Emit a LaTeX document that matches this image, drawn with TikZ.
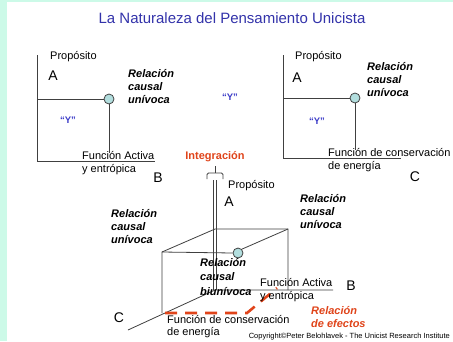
\documentclass[tikz,border=0pt]{standalone}
\usepackage{fontspec}
\setmainfont{Liberation Sans}
\definecolor{mint}{RGB}{204,250,232}
\definecolor{titleblue}{RGB}{51,51,170}
\definecolor{yblue}{RGB}{60,60,200}
\definecolor{knotfill}{RGB}{178,222,222}
\definecolor{effred}{RGB}{224,68,26}

\begin{document}
\begin{tikzpicture}[
		x=1pt, y=-1pt,
		ax/.style    ={draw=black!75,	line width=0.8pt},
		knot/.style  ={circle,	draw=black!75,	fill=knotfill,	line width=0.8pt,	inner sep=0pt,	minimum size=10pt},
		lbl/.style   ={inner sep=0pt,	anchor=west,	align=left,	font=\fontsize{11}{13}\selectfont},
		rel/.style   ={lbl,	font=\fontsize{11}{13}\selectfont\bfseries\itshape},
		letr/.style  ={inner sep=0pt,	font=\fontsize{14}{14}\selectfont},
		yq/.style    ={inner sep=0pt,	text=yblue,	font=\fontsize{9.5}{9.5}\selectfont\bfseries},
		effect/.style={draw=effred,	line width=2.6pt,	dash pattern=on 12pt off 8pt},
	]

	% background
	\fill [white] (0,0) rectangle (453,341);
	\fill [mint] (0,0) rectangle (7,341);
	\fill [mint] (0,0) rectangle (453,1.5);
	\useasboundingbox (0,0) rectangle (453,341);

	\node [inner sep=0pt, text=titleblue, font=\fontsize{15}{15}\selectfont] (title) at (232,18) {La Naturaleza del Pensamiento Unicista};

	% plane diagrams
	\foreach \n/\x/\y/\k/\m in {ab/37/161/109/99, ac/283/158/355/98} {
		\coordinate (\n top) at (\x,55);
		\coordinate (\n o) at (\x,\y);
		\coordinate (\n end) at (\x+118,\y);
		\coordinate (\n mid) at (\x,\m);
		\coordinate (\n drop) at (\k,\y-8);
		\node [knot] (\n knot) at (\k,\m) {};
		\draw [ax] (\n top) -- (\n o) -- (\n end);
		\draw [ax] (\n mid) -- (\n knot.west);
		\draw [ax] (\n knot.south) -- (\n drop);
	}

	\node [lbl]  (ab purp) at (50,57)    {Propósito};
	\node [letr] (ab a)    at (53,76)    {A};
	\node [rel]  (ab rel)  at (128,87)   {Relación\\causal\\unívoca};
	\node [yq]   (ab y)    at (68,120)   {“Y”};
	\node [lbl]  (ab fun)  at (82,163.5) {Función Activa\\y entrópica};
	\node [letr] (ab b)    at (158,178)  {B};

	\node [yq] (mid y) at (230,97) {“Y”};

	\node [lbl]  (ac purp) at (295,57)    {Propósito};
	\node [letr] (ac a)    at (297,78)    {A};
	\node [rel]  (ac rel)  at (367,80)    {Relación\\causal\\unívoca};
	\node [yq]   (ac y)    at (317,121)   {“Y”};
	\node [lbl]  (ac fun)  at (328,160.5) {Función de conservación\\de energía};
	\node [letr] (ac c)    at (415,177)   {C};

	% cube
	\coordinate (o)    at (215,290);
	\coordinate (atop) at (215,180);
	\coordinate (bend) at (333,290);
	\coordinate (cend) at (128,330);
	\coordinate (bktl) at (215,229);
	\coordinate (bktr) at (288,229);
	\coordinate (bkbr) at (288,290);
	\coordinate (frtl) at (162,252);
	\coordinate (frbl) at (162,313);
	\node [knot] (cube knot) at (238,253) {};

	\draw [ax, double=white, double distance=2.4pt, line width=0.7pt] (atop) -- (o);
	\draw [ax] (cend) -- (o) -- (bend);
	\draw [ax] (frbl) -- (frtl) -- (bktl) -- (bktr) -- (bkbr);
	\draw [ax] (frtl) -- (cube knot.west);
	\draw [ax] (cube knot.north east) -- (bktr);

	% brace on top of A
	\draw [ax, rounded corners=1.5pt] (207,179) -- (207,173) -- (223,173) -- (223,179);
	\draw [ax] (215,173) -- (215,166);

	% relacion de efectos
	\coordinate (eff a) at (165,313);
	\coordinate (eff b) at (247,313);
	\coordinate (eff c) at (277,288);
	\draw [effect] (eff a) -- (eff b) -- (eff c);

	\node [inner sep=0pt, text=effred, font=\fontsize{11}{11}\selectfont\bfseries] (integ) at (215,157) {Integración};
	\node [lbl]  (c purp)   at (228,186) {Propósito};
	\node [letr] (c a)      at (229,202) {A};
	\node [rel]  (c rel l)  at (111,227) {Relación\\causal\\unívoca};
	\node [rel]  (c rel r)  at (300,212) {Relación\\causal\\unívoca};
	\node [rel, font=\fontsize{11}{14.5}\selectfont\bfseries\itshape] (c rel bi) at (200,277) {Relación\\causal\\biunívoca};
	\node [lbl]  (c fun b)  at (260,290) {Función Activa\\y entrópica};
	\node [letr] (c b)      at (351,286) {B};
	\node [letr] (c c)      at (119,318) {C};
	\node [lbl, font=\fontsize{11}{12}\selectfont] (c fun c) at (167,327) {Función de conservación\\de energía};
	\node [rel, text=effred] (c eff) at (311,317) {Relación\\de efectos};
	\node [inner sep=0pt, anchor=east, font=\fontsize{7.5}{7.5}\selectfont] (copy) at (450,337) {Copyright©Peter Belohlavek - The Unicist Research Institute};

\end{tikzpicture}
\end{document}
